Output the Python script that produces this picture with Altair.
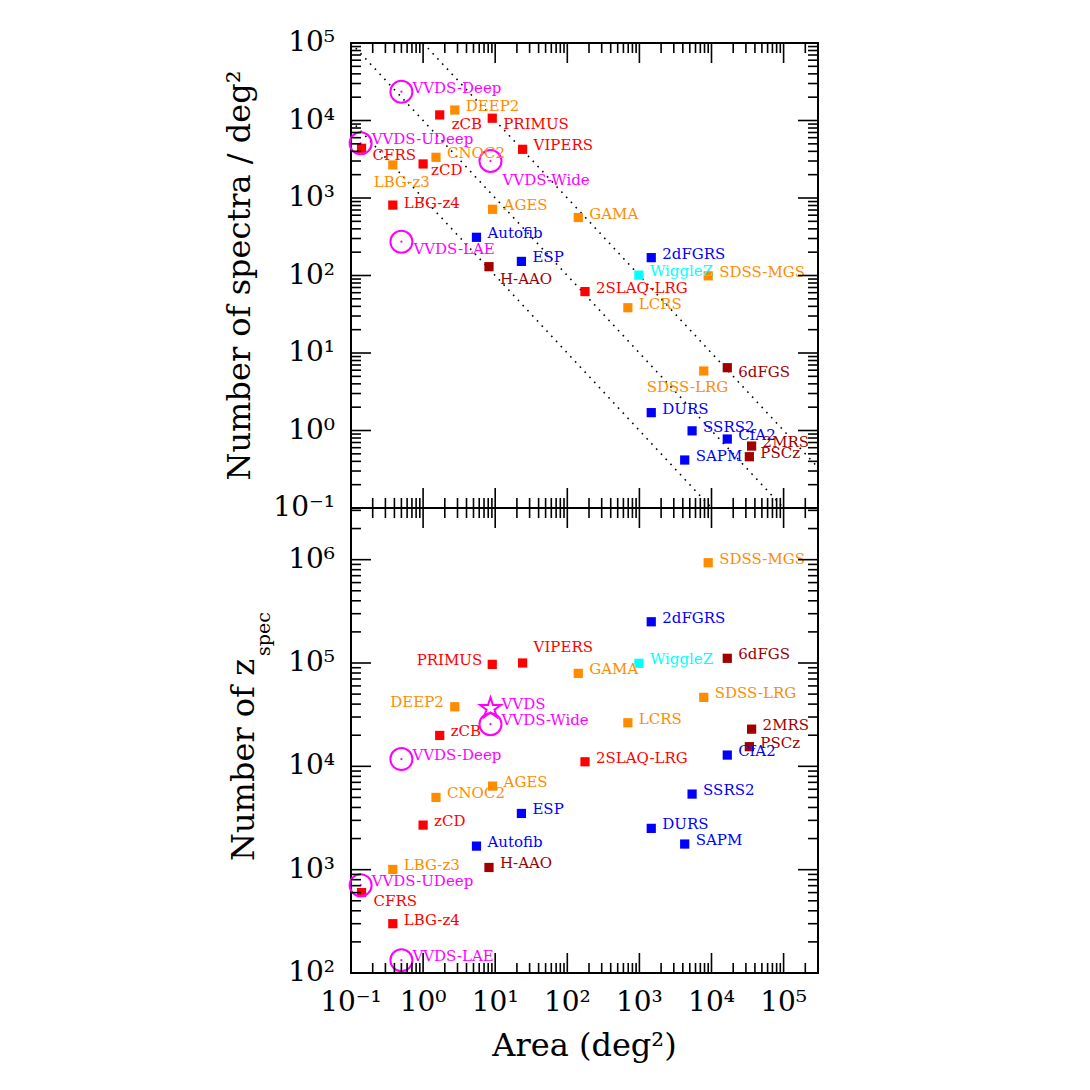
import altair as alt
import pandas as pd

# ---------------- data ----------------
NAMES = ["zCB", "PRIMUS", "CFRS", "VIPERS", "zCD", "LBG-z4", "2SLAQ-LRG",
         "DEEP2", "CNOC2", "LBG-z3", "AGES", "GAMA", "LCRS", "SDSS-MGS", "SDSS-LRG",
         "Autofib", "ESP", "2dFGRS", "DURS", "SSRS2", "CfA2", "SAPM",
         "WiggleZ", "H-AAO", "6dFGS", "2MRS", "PSCz",
         "VVDS-Deep", "VVDS-UDeep", "VVDS-Wide", "VVDS-LAE", "VVDS"]
GROUP = (["red"] * 7 + ["orange"] * 8 + ["blue"] * 7 + ["cyan"]
         + ["darkred"] * 4 + ["magenta"] * 5)
MARKER = ["square"] * 27 + ["circle"] * 4 + ["star"]
AREA = [1.7, 9.1, 0.14, 24, 1.0, 0.38, 176,
        2.75, 1.51, 0.38, 9.2, 142, 692, 9000, 7810,
        5.5, 23.1, 1460, 1460, 5380, 16550, 4250,
        984, 8.2, 16550, 36000, 33500,
        0.5, 0.136, 8.6, 0.5, 8.6]
DENSITY = [11800, 10700, 4380, 4250, 2750, 810, 62,
           13650, 3350, 2670, 715, 560, 38.4, 99, 5.86,
           311, 152, 170, 1.70, 0.99, 0.776, 0.416,
           101, 130, 6.46, 0.63, 0.459,
           23500, 5080, 3000, 273, None]
NZ = [19900, 97000, 600, 100000, 2700, 300, 11070,
      37700, 5000, 1005, 6440, 79400, 26400, 934000, 46500,
      1690, 3500, 250600, 2510, 5390, 12850, 1770,
      99300, 1050, 111000, 22900, 15500,
      11750, 708, 25600, 133, 36400]

# dotted guide lines (constant total number of spectra), end points inside the frame
GUIDE_N = ["1e3", "1e3", "1e4", "1e4", "1e5", "1e5"]
GUIDE_AREA = [0.1, 1e4, 0.1, 1e5, 1.0, 3e5]
GUIDE_DENSITY = [1e4, 0.1, 1e5, 0.1, 1e5, 0.3333]

# tick labels
X_TICKS = [0.1, 1, 10, 100, 1e3, 1e4, 1e5]
X_TICK_LABELS = ["10⁻¹", "10⁰", "10¹", "10²", "10³", "10⁴", "10⁵"]
TOP_Y_TICKS = [0.1, 1, 10, 100, 1e3, 1e4, 1e5]
TOP_Y_TICK_LABELS = ["10⁻¹", "10⁰", "10¹", "10²", "10³", "10⁴", "10⁵"]
BOT_Y_TICKS = [100, 1e3, 1e4, 1e5, 1e6]
BOT_Y_TICK_LABELS = ["10²", "10³", "10⁴", "10⁵", "10⁶"]

COLOR_DOMAIN = ["red", "orange", "blue", "cyan", "darkred", "magenta"]
COLOR_RANGE = ["#ff0000", "#ff8c00", "#0000ff", "#00ffff", "#a00000", "#ff00ff"]

# five-pointed star outline (unit box) for the VVDS total point
STAR_PATH = ("M0,-1L0.2245,-0.309L0.9511,-0.309L0.3633,0.118L0.5878,0.809L0,0.382"
             "L-0.5878,0.809L-0.3633,0.118L-0.9511,-0.309L-0.2245,-0.309Z")

# label placement (style only)
DEFAULT_NUDGE = (11, -4, "left")
TOP_NUDGE = {"zCB": (12, 9), "PRIMUS": (11, 6), "CFRS": (11, 7), "VVDS-Wide": (12, 19),
             "zCD": (8, 6), "LBG-z3": (-19, 17), "LBG-z4": (11, -2), "VVDS-LAE": (12, 7),
             "H-AAO": (11, 12), "SDSS-LRG": (-57, 16), "6dFGS": (11, 4)}
BOTTOM_NUDGE = {"PRIMUS": (-10, -4, "right"), "VIPERS": (11, -16),
                "DEEP2": (-11, -5, "right"), "CFRS": (12, 8)}

# ---------------- geometry / scales ----------------
W = 467          # plot width
HP = 465         # height of each panel
H2 = 2 * HP      # both panels, stacked in one view
FONT = "DejaVu Serif"

XMAX = 3e5
xscale = alt.Scale(type="log", domain=[0.1, XMAX], nice=False)
top_y = alt.Scale(type="log", domain=[0.1, 1e5], range=[HP, 0], nice=False)
bot_y = alt.Scale(type="log", domain=[100, 10 ** 6.5], range=[H2, HP], nice=False)
cscale = alt.Scale(domain=COLOR_DOMAIN, range=COLOR_RANGE)


def log_ticks(lo_exp, hi_exp, vmax):
    major = [10.0 ** e for e in range(lo_exp, hi_exp + 1) if 10.0 ** e <= vmax * 1.0001]
    minor = [k * 10.0 ** e for e in range(lo_exp, hi_exp + 1) for k in range(2, 10)
             if k * 10.0 ** e <= vmax * 1.0001]
    return major, minor


def rule(df):
    return alt.Chart(df).mark_rule(color="black", strokeWidth=1.6)


def x_tick_layers():
    xmaj, xmin_ = log_ticks(-1, 5, XMAX)
    out = []
    xe = alt.X("area:Q", scale=xscale, axis=None)
    for vals, ln in ((xmaj, 20), (xmin_, 10)):
        d = pd.DataFrame({"area": vals})
        for edge, sign in ((0, 1), (HP, -1), (HP, 1), (H2, -1)):
            out.append(rule(d).encode(x=xe, y=alt.value(edge), y2=alt.value(edge + sign * ln)))
    return out


def y_tick_layers(field, scale, lo, hi, vmax):
    ymaj, ymin_ = log_ticks(lo, hi, vmax)
    out = []
    ye = alt.Y(f"{field}:Q", scale=scale, axis=None)
    for vals, ln in ((ymaj, 20), (ymin_, 10)):
        d = pd.DataFrame({field: vals})
        out.append(rule(d).encode(y=ye, x=alt.value(0), x2=alt.value(ln)))
        out.append(rule(d).encode(y=ye, x=alt.value(W), x2=alt.value(W - ln)))
    return out


def point_layers(df, field, scale, nudges):
    x = alt.X("area:Q", scale=xscale, axis=None)
    y = alt.Y(f"{field}:Q", scale=scale, axis=None)
    color = alt.Color("group:N", scale=cscale, legend=None)
    base = alt.Chart(df)
    layers = [
        base.transform_filter("datum.marker == 'square'")
        .mark_square(size=85, opacity=1).encode(x=x, y=y, color=color),
        base.transform_filter("datum.marker == 'circle'")
        .mark_point(shape="circle", size=484, filled=False, strokeWidth=2, opacity=1)
        .encode(x=x, y=y, color=color),
        base.transform_filter("datum.marker == 'circle'")
        .mark_circle(size=5, opacity=1).encode(x=x, y=y, color=color),
    ]
    if (df["marker"] == "star").any():
        layers.append(
            base.transform_filter("datum.marker == 'star'")
            .mark_point(shape=STAR_PATH, size=480, filled=False, strokeWidth=2, opacity=1)
            .encode(x=x, y=y, color=color))
    groups = {}
    for n in df["name"]:
        nd = nudges.get(n, DEFAULT_NUDGE)
        if len(nd) == 2:
            nd = (nd[0], nd[1], "left")
        groups.setdefault(nd, []).append(n)
    for (dx, dy, al), names in groups.items():
        layers.append(
            base.transform_filter(alt.FieldOneOfPredicate(field="name", oneOf=names))
            .mark_text(font=FONT, fontSize=15, dx=dx, dy=dy, align=al, baseline="middle")
            .encode(x=x, y=y, color=color, text="name:N"))
    return layers


def title_text(txt, size, px, py, angle=0):
    return alt.Chart(pd.DataFrame({"t": [txt]})).mark_text(
        font=FONT, fontSize=size, angle=angle, align="center", baseline="middle",
        color="black"
    ).encode(x=alt.value(px), y=alt.value(py), text="t:N")


full = pd.DataFrame({"name": NAMES, "group": GROUP, "marker": MARKER,
                     "area": AREA, "density": DENSITY, "nz": NZ})
top_df = full[full["density"].notna()].reset_index(drop=True)
bot_df = full.copy()

guides = pd.DataFrame({"N": GUIDE_N, "area": GUIDE_AREA, "density": GUIDE_DENSITY})
guide_layer = alt.Chart(guides).mark_line(
    color="black", strokeDash=[1.6, 5.4], strokeWidth=1.6
).encode(x=alt.X("area:Q", scale=xscale, axis=None),
         y=alt.Y("density:Q", scale=top_y, axis=None),
         detail="N:N")

# tick labels as text marks placed through the scales
xlab = alt.Chart(pd.DataFrame({"area": X_TICKS, "label": X_TICK_LABELS})).mark_text(
    font=FONT, fontSize=28, align="center", baseline="top", color="black"
).encode(x=alt.X("area:Q", scale=xscale, axis=None), y=alt.value(H2 + 16), text="label:N")
tylab = alt.Chart(pd.DataFrame({"density": TOP_Y_TICKS, "label": TOP_Y_TICK_LABELS})).mark_text(
    font=FONT, fontSize=28, align="right", baseline="middle", color="black"
).encode(y=alt.Y("density:Q", scale=top_y, axis=None), x=alt.value(-16), text="label:N")
bylab = alt.Chart(pd.DataFrame({"nz": BOT_Y_TICKS, "label": BOT_Y_TICK_LABELS})).mark_text(
    font=FONT, fontSize=28, align="right", baseline="middle", color="black"
).encode(y=alt.Y("nz:Q", scale=bot_y, axis=None), x=alt.value(-16), text="label:N")

# frame line between the two panels (top of the lower panel's scale)
divider = alt.Chart(pd.DataFrame({"nz": [10 ** 6.5]})).mark_rule(
    color="black", strokeWidth=2
).encode(y=alt.Y("nz:Q", scale=bot_y, axis=None), x=alt.value(0), x2=alt.value(W))

titles = [
    title_text("Number of spectra / deg²", 32, -111, HP / 2, 270),
    title_text("Number of z", 32, -107, HP + 252, 270),
    title_text("spec", 19, -87, HP + 126, 270),
    title_text("Area (deg²)", 32, W / 2, H2 + 73),
]

chart = alt.layer(
    guide_layer,
    *point_layers(top_df, "density", top_y, TOP_NUDGE),
    *point_layers(bot_df, "nz", bot_y, BOTTOM_NUDGE),
    *x_tick_layers(),
    *y_tick_layers("density", top_y, -1, 5, 1e5),
    *y_tick_layers("nz", bot_y, 2, 6, 10 ** 6.5),
    divider, xlab, tylab, bylab, *titles,
).resolve_scale(y="independent").properties(
    width=W, height=H2,
    autosize=alt.AutoSizeParams(type="none"),
    padding={"left": 343, "top": 35, "right": 1074 - 343 - W, "bottom": 1074 - 35 - H2},
    background="white",
).configure_view(stroke="black", strokeWidth=2)

chart.save("out.html", embed_options={"renderer": "svg", "actions": False})
